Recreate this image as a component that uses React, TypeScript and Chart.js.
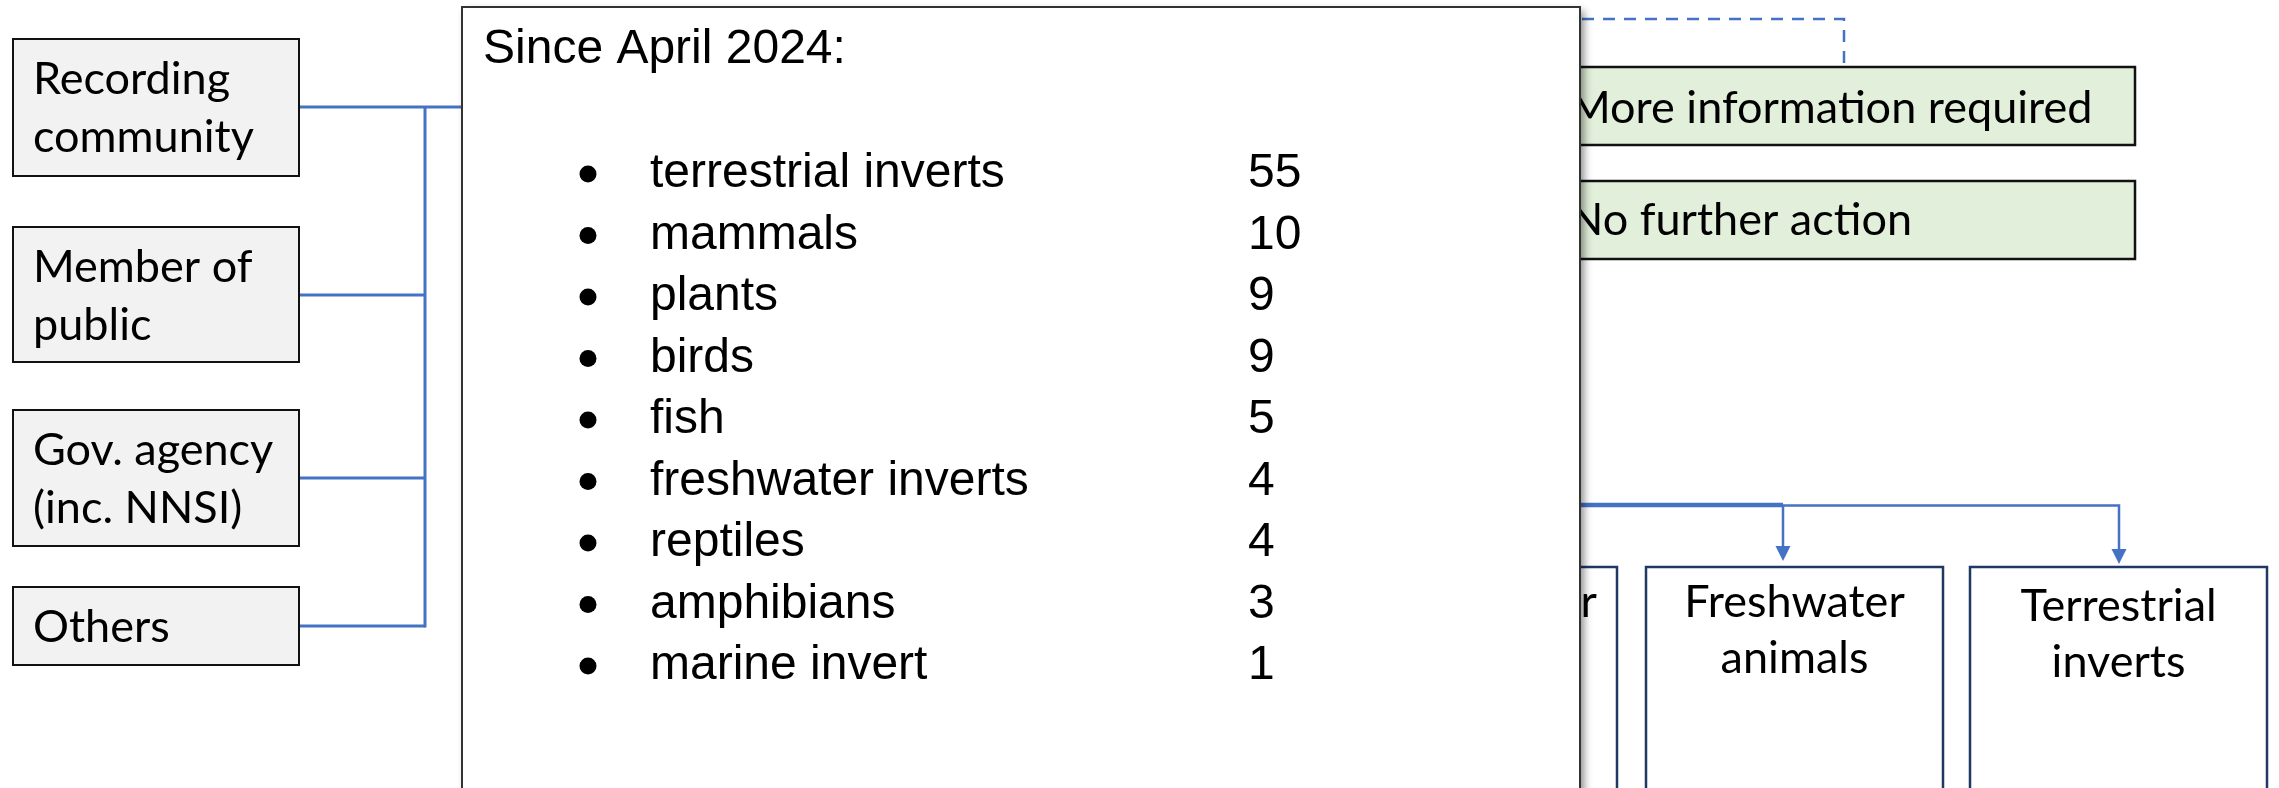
import React, { useEffect, useRef } from "react";
import { Chart, registerables } from "chart.js";

Chart.register(...registerables);

// ---- data ----
const listTitle = "Since April 2024:";
const categories = [
  "terrestrial inverts",
  "mammals",
  "plants",
  "birds",
  "fish",
  "freshwater inverts",
  "reptiles",
  "amphibians",
  "marine invert",
];
const counts = [55, 10, 9, 9, 5, 4, 4, 3, 1];
const sourceLabels = [
  ["Recording", "community"],
  ["Member of", "public"],
  ["Gov. agency", "(inc. NNSI)"],
  ["Others"],
];
const outcomeLabels = ["More information required", "No further action"];
const groupLabels = [["Other"], ["Freshwater", "animals"], ["Terrestrial", "inverts"]];

// ---- layout (diagram units = page pixels) ----
const W = 2279;
const H = 788;
const SRC = { x0: 13, x1: 299, tops: [39, 227, 410, 587], bottoms: [176, 362, 546, 665], links: [107, 295, 478, 626], trunk: 425, textX: 33, base: 55, lead: 58 };
const POP = { x0: 462, y0: 7, x1: 1580, y1: 900, titleX: 483, titleY: 63, bulletX: 588, labelX: 650, countX: 1248, rowY: 187, rowGap: 61.5 };
const OUT = { x0: 1545, x1: 2135, tops: [67, 181], bottoms: [145, 259], textX: 1569, baselines: [123, 235] };
const GRP = { lefts: [1400, 1646, 1970], rights: [1617, 1943, 2267], top: 567, bottom: 820 };
const BLUE = "#4472C4";
const CALIBRI = "45px Lato, Carlito, 'Open Sans', sans-serif";
const ARIAL = "48px 'Liberation Sans', Arial, sans-serif";

const diagramPlugin = {
  id: "diagram",
  beforeDraw(chart: any) {
    const { ctx } = chart;
    const sx = chart.scales.x;
    const sy = chart.scales.y;
    const X = (v: number) => sx.getPixelForValue(v);
    const Y = (v: number) => sy.getPixelForValue(v);

    const rect = (x0: number, y0: number, x1: number, y1: number, fill: string | null, stroke: string | null, lw: number) => {
      if (fill) {
        ctx.fillStyle = fill;
        ctx.fillRect(X(x0), Y(y0), X(x1) - X(x0), Y(y1) - Y(y0));
      }
      if (stroke) {
        ctx.strokeStyle = stroke;
        ctx.lineWidth = lw;
        ctx.strokeRect(X(x0), Y(y0), X(x1) - X(x0), Y(y1) - Y(y0));
      }
    };
    const line = (pts: number[][], color: string, lw: number, dash: number[] = []) => {
      ctx.save();
      ctx.strokeStyle = color;
      ctx.lineWidth = lw;
      ctx.setLineDash(dash);
      ctx.beginPath();
      pts.forEach((p, i) => (i === 0 ? ctx.moveTo(X(p[0]), Y(p[1])) : ctx.lineTo(X(p[0]), Y(p[1]))));
      ctx.stroke();
      ctx.restore();
    };
    const arrowHead = (x: number, tipY: number) => {
      ctx.fillStyle = BLUE;
      ctx.beginPath();
      ctx.moveTo(X(x), Y(tipY));
      ctx.lineTo(X(x - 7.5), Y(tipY - 15));
      ctx.lineTo(X(x + 7.5), Y(tipY - 15));
      ctx.closePath();
      ctx.fill();
    };

    ctx.save();
    ctx.fillStyle = "#ffffff";
    ctx.fillRect(0, 0, chart.width, chart.height);
    ctx.textBaseline = "alphabetic";

    // source boxes
    sourceLabels.forEach((lines, i) => {
      rect(SRC.x0, SRC.tops[i], SRC.x1, SRC.bottoms[i], "#F2F2F2", "#111111", 2);
      ctx.fillStyle = "#000";
      ctx.font = CALIBRI;
      ctx.textAlign = "left";
      lines.forEach((t, j) => ctx.fillText(t, X(SRC.textX), Y(SRC.tops[i] + SRC.base + SRC.lead * j)));
    });
    // source connectors
    SRC.links.forEach((yy, i) => {
      line([[SRC.x1 + 1, yy], [i === 0 ? POP.x0 + 20 : SRC.trunk, yy]], BLUE, 3);
    });
    line([[SRC.trunk, SRC.links[0]], [SRC.trunk, SRC.links[SRC.links.length - 1] + 1.5]], BLUE, 3);

    // dashed feedback line
    line([[POP.x1 - 40, 19], [1844, 19], [1844, OUT.tops[0]]], BLUE, 2.5, [12, 9]);

    // outcome boxes
    outcomeLabels.forEach((t, i) => {
      rect(OUT.x0, OUT.tops[i], OUT.x1, OUT.bottoms[i], "#E2EFDA", "#111111", 2.5);
      ctx.fillStyle = "#000";
      ctx.font = CALIBRI;
      ctx.textAlign = "left";
      ctx.fillText(t, X(OUT.textX), Y(OUT.baselines[i]));
    });

    // group connectors
    const centers = GRP.lefts.map((l, i) => (l + GRP.rights[i]) / 2);
    line([[POP.x1 - 40, 505], [1783, 505]], BLUE, 4.5);
    line([[POP.x1 - 40, 505.5], [2119, 505.5], [2119, 549]], BLUE, 2.5);
    line([[1783, 505], [1783, 547]], BLUE, 2.5);
    arrowHead(1783, 561);
    arrowHead(2119, 564);

    // group boxes
    groupLabels.forEach((lines, i) => {
      rect(GRP.lefts[i], GRP.top, GRP.rights[i], GRP.bottom, "#ffffff", "#1F3864", 2.5);
      ctx.fillStyle = "#000";
      ctx.font = CALIBRI;
      const shift = i === 2 ? 4 : 0;
      if (i === 0) {
        ctx.textAlign = "right";
        ctx.fillText(lines[0], X(1597), Y(617));
      } else {
        ctx.textAlign = "center";
        lines.forEach((t, j) => ctx.fillText(t, X(centers[i]), Y(617 + shift + 56 * j)));
      }
    });

    // popup with shadow
    ctx.save();
    ctx.shadowColor = "rgba(0,0,0,0.45)";
    ctx.shadowBlur = 8;
    ctx.shadowOffsetX = 4;
    ctx.shadowOffsetY = 4;
    ctx.fillStyle = "#ffffff";
    ctx.fillRect(X(POP.x0), Y(POP.y0), X(POP.x1) - X(POP.x0), Y(POP.y1) - Y(POP.y0));
    ctx.restore();
    rect(POP.x0, POP.y0, POP.x1, POP.y1, null, "#333333", 2);

    ctx.fillStyle = "#000";
    ctx.font = ARIAL;
    ctx.textAlign = "left";
    ctx.fillText(listTitle, X(POP.titleX), Y(POP.titleY));
    categories.forEach((c, i) => {
      const by = POP.rowY + POP.rowGap * i;
      ctx.beginPath();
      ctx.arc(X(POP.bulletX), Y(by - 13), 8.5, 0, Math.PI * 2);
      ctx.fill();
      ctx.fillText(c, X(POP.labelX), Y(by));
      ctx.fillText(String(counts[i]), X(POP.countX), Y(by));
    });
    ctx.restore();
  },
};

export default function App() {
  const ref = useRef<HTMLCanvasElement | null>(null);
  useEffect(() => {
    if (!ref.current) return;
    const chart = new Chart(ref.current, {
      type: "scatter",
      data: { datasets: [] },
      options: {
        responsive: false,
        maintainAspectRatio: false,
        devicePixelRatio: 1,
        animation: false,
        layout: { padding: 0 },
        plugins: { legend: { display: false }, tooltip: { enabled: false }, title: { display: false } },
        scales: {
          x: { type: "linear", min: 0, max: W, display: false },
          y: { type: "linear", min: 0, max: H, reverse: true, display: false },
        },
      },
      plugins: [diagramPlugin],
    });
    return () => chart.destroy();
  }, []);
  return (
    <div style={{ position: "fixed", left: 0, top: 0, width: W, height: H, background: "#fff" }}>
      <canvas ref={ref} width={W} height={H} style={{ display: "block", width: W, height: H }} />
    </div>
  );
}
